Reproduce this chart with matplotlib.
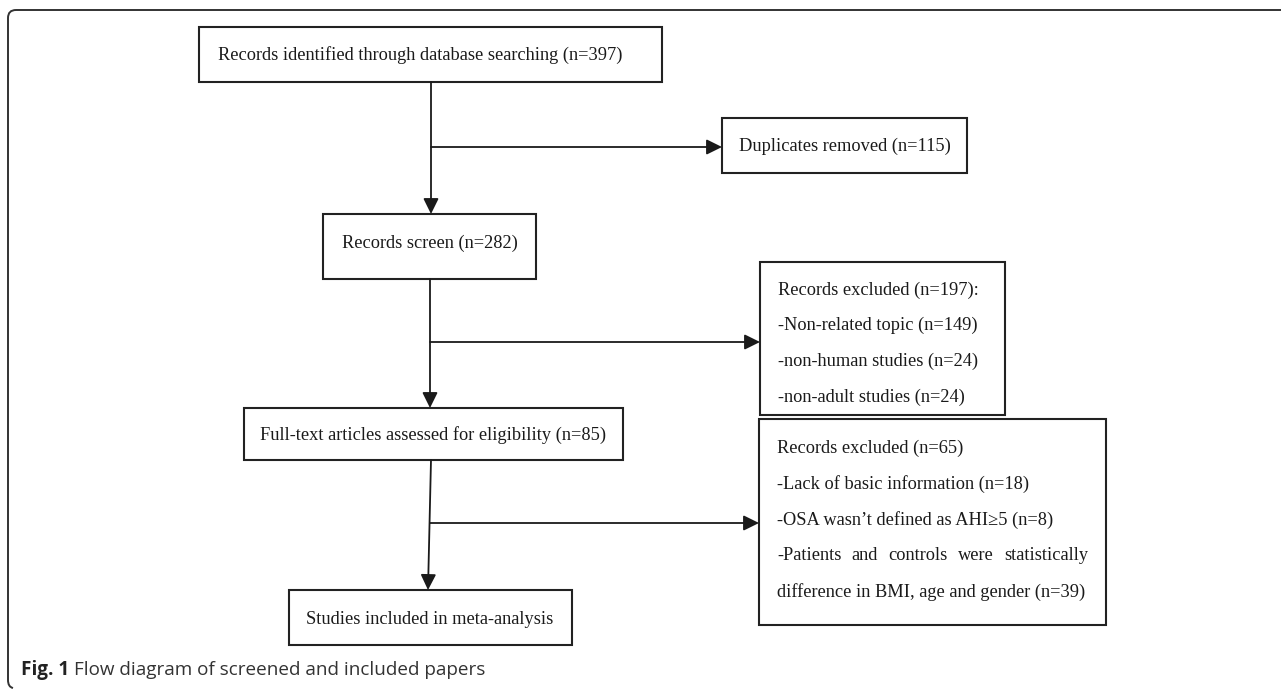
import matplotlib.pyplot as plt
from matplotlib.patches import Rectangle, FancyArrowPatch
from matplotlib.path import Path
from matplotlib.patches import PathPatch

# ---- flow counts and labels ----
identified_n = 397
duplicates_n = 115
screened_n = 282
excluded_screen_n = 197
excluded_screen_reasons = ["Non-related topic", "non-human studies", "non-adult studies"]
excluded_screen_counts = [149, 24, 24]
fulltext_n = 85
excluded_full_n = 65
excluded_full_reasons = ["Lack of basic information", "OSA wasn\u2019t defined as AHI\u22655"]
excluded_full_counts = [18, 8]
excluded_full_last = ["-Patients and controls were statistically",
                      "difference in BMI, age and gender (n=39)"]
caption_bold = "Fig. 1"
caption_text = "Flow diagram of screened and included papers"

W, H = 1281, 689
fig = plt.figure(figsize=(W / 100, H / 100), dpi=100)
ax = fig.add_axes([0, 0, 1, 1])
ax.set_xlim(0, W)
ax.set_ylim(H, 0)
ax.axis('off')

serif = 'Liberation Serif'
fs = 13.2
ink = '#1a1a1a'


def box(x0, y0, x1, y1):
    ax.add_patch(Rectangle((x0, y0), x1 - x0, y1 - y0, fill=False,
                           edgecolor='#222222', lw=1.5))


def arrow(p0, p1):
    ax.add_patch(FancyArrowPatch(p0, p1, arrowstyle='-|>,head_length=0.85,head_width=0.42',
                                 mutation_scale=11, color=ink, lw=1.3,
                                 shrinkA=0, shrinkB=0))


# outer frame: top and left sides with rounded corners
r = 8
verts = [(W + 5, 10), (8 + r, 10), (8, 10), (8, 10 + r), (8, 680), (8, 687), (13, 688)]
codes = [Path.MOVETO, Path.LINETO, Path.CURVE3, Path.CURVE3, Path.LINETO, Path.CURVE3, Path.CURVE3]
ax.add_patch(PathPatch(Path(verts, codes), fill=False, edgecolor='#333333', lw=1.4))

# boxes
box(199, 27, 662, 82)
ax.text(420, 55, f"Records identified through database searching (n={identified_n})",
        family=serif, fontsize=fs, color=ink, ha='center', va='center')

box(722, 118, 967, 173)
ax.text(845, 146, f"Duplicates removed (n={duplicates_n})",
        family=serif, fontsize=fs, color=ink, ha='center', va='center')

box(323, 214, 536, 279)
ax.text(430, 243, f"Records screen (n={screened_n})",
        family=serif, fontsize=fs, color=ink, ha='center', va='center')

box(760, 262, 1005, 415)
lines197 = [f"Records excluded (n={excluded_screen_n}):"] + \
    [f"-{t} (n={c})" for t, c in zip(excluded_screen_reasons, excluded_screen_counts)]
for i, t in enumerate(lines197):
    ax.text(778, 290 + i * 35.7, t, family=serif, fontsize=fs, color=ink, ha='left', va='center')

box(244, 408, 623, 460)
ax.text(433, 435, f"Full-text articles assessed for eligibility (n={fulltext_n})",
        family=serif, fontsize=fs, color=ink, ha='center', va='center')

box(759, 419, 1106, 625)
lines65 = [f"Records excluded (n={excluded_full_n})"] + \
    [f"-{t} (n={c})" for t, c in zip(excluded_full_reasons, excluded_full_counts)]
for i, t in enumerate(lines65):
    ax.text(777, 448 + i * 36, t, family=serif, fontsize=fs, color=ink, ha='left', va='center')

# justified line
renderer = fig.canvas.get_renderer()
words = excluded_full_last[0].split()
objs = [ax.text(0, 556, w, family=serif, fontsize=fs, color=ink, ha='left', va='center')
        for w in words]
widths = [o.get_window_extent(renderer).width for o in objs]
left, right = 777, 1088
gap = (right - left - sum(widths)) / (len(words) - 1)
x = left
for o, w in zip(objs, widths):
    o.set_x(x)
    x += w + gap
ax.text(777, 592, excluded_full_last[1], family=serif, fontsize=fs, color=ink,
        ha='left', va='center')

box(289, 590, 572, 645)
ax.text(430, 619, "Studies included in meta-analysis",
        family=serif, fontsize=fs, color=ink, ha='center', va='center')

# connectors
arrow((431, 82), (431, 214))
arrow((431, 147), (722, 147))
arrow((430, 279), (430, 408))
arrow((430, 342), (760, 342))
arrow((431, 460), (428, 590))
arrow((430, 523), (759, 523))

# caption
t1 = ax.text(21, 670, caption_bold + " ", family='Open Sans', fontweight='bold',
             fontsize=13.6, color='#222222', ha='left', va='center')
bb = t1.get_window_extent(renderer)
ax.text(21 + bb.width, 670, caption_text, family='Open Sans', fontsize=13.6,
        color='#333333', ha='left', va='center')

fig.savefig('out.png', dpi=100)
